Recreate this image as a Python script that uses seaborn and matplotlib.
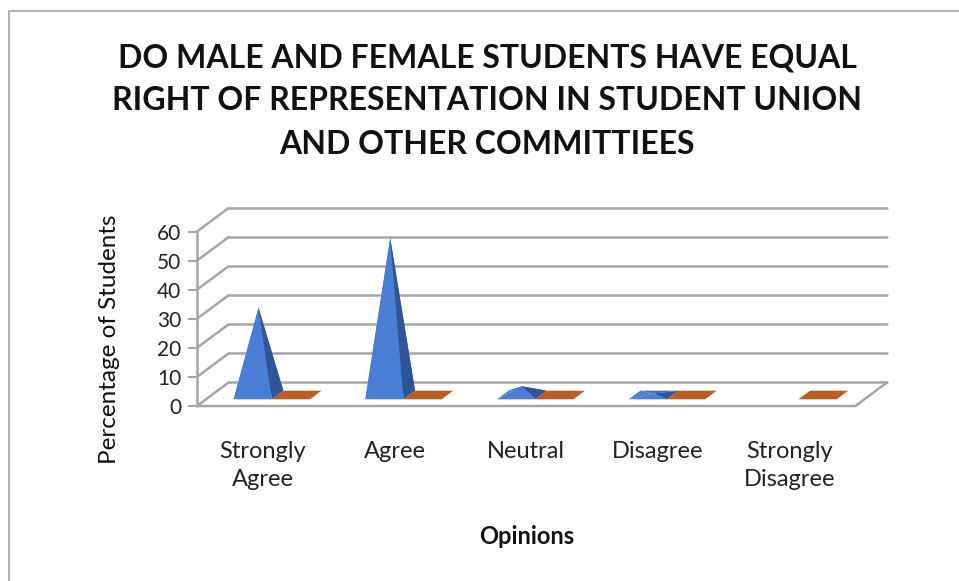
import matplotlib
matplotlib.use('Agg')
import matplotlib.pyplot as plt
from matplotlib.patches import Polygon
from matplotlib.lines import Line2D
import numpy as np
import pandas as pd
import seaborn as sns

# data
opinions = ['Strongly\nAgree', 'Agree', 'Neutral', 'Disagree', 'Strongly\nDisagree']
series_1 = [30, 54, 3, 0.5, np.nan]
series_2 = [0, 0, 0, 0, 0]
y_ticks = [0, 10, 20, 30, 40, 50, 60]

title = ('DO MALE AND FEMALE STUDENTS HAVE EQUAL\n'
         'RIGHT OF REPRESENTATION IN STUDENT UNION\n'
         'AND OTHER COMMITTIEES')

sns.set_theme(style='white')
plt.rcParams['font.family'] = ['Lato', 'DejaVu Sans']

df = pd.DataFrame({
    'opinion': opinions * 2,
    'pct': series_1 + series_2,
    'series': ['Series1'] * 5 + ['Series2'] * 5,
})

# fake 3D: depth offset of the back wall (x in categories, y in %)
DX, DY = 0.24, 8.1
D0, D1 = 0.285, 0.65   # depth range of the pyramids' base
grid_col = '#a6a6a6'

fig = plt.figure(figsize=(9.59, 5.81), dpi=100)
ax = fig.add_axes([197 / 959, (581 - 406) / 581, 690 / 959, 198 / 581])

sns.barplot(data=df, x='opinion', y='pct', hue='series', order=opinions,
            palette=['#4a7dd6', '#c0632a'], width=0.58, errorbar=None,
            legend=False, ax=ax)

# walls and floor
x0, x1 = -0.5, len(opinions) - 0.5
for v in y_ticks:
    ax.plot([x0 + DX, x1 + DX], [v + DY, v + DY], color=grid_col, lw=1.8,
            zorder=1, clip_on=False)
    ax.plot([x0, x0 + DX], [v, v + DY], color=grid_col, lw=1.8, zorder=1,
            clip_on=False)
ax.plot([x0, x0], [0, y_ticks[-1]], color=grid_col, lw=1.8, zorder=1, clip_on=False)
ax.plot([x0, x1, x1 + DX], [0, 0, DY], color=grid_col, lw=1.8, zorder=1,
        clip_on=False)

# turn each bar into a pyramid
shades = [('#4a7dd6', '#2f5597', '#3d6bc0'), ('#c0632a', '#8f4a1f', '#b85e24')]
for cont, (light, dark, mid) in zip(ax.containers, shades):
    for p in cont.patches:
        h = p.get_height()
        x, w = p.get_x(), p.get_width()
        p.set_visible(False)
        if not np.isfinite(h):
            continue
        fl = (x + D0 * DX, D0 * DY)
        fr = (x + w + D0 * DX, D0 * DY)
        br = (x + w + D1 * DX, D1 * DY)
        bl = (x + D1 * DX, D1 * DY)
        dm = (D0 + D1) / 2
        apex = (x + w / 2 + dm * DX, h + dm * DY)
        if h <= 0:
            ax.add_patch(Polygon([fl, fr, br, bl], closed=True, fc=mid,
                                 ec='none', zorder=3))
            continue
        for pts, c in [([bl, br, apex], mid), ([fl, bl, apex], light),
                       ([fl, fr, apex], light), ([fr, br, apex], dark)]:
            ax.add_patch(Polygon(pts, closed=True, fc=c, ec='none', zorder=3))

ax.set_xlim(x0, x1 + DX)
ax.set_ylim(0, y_ticks[-1] + DY)
ax.set_yticks(y_ticks)
ax.set_yticklabels([str(t) for t in y_ticks])
ax.tick_params(axis='y', length=6.5, width=1.5, color=grid_col, labelsize=15,
               pad=5, labelcolor='#222222', left=True)
ax.tick_params(axis='x', length=0, pad=25, labelsize=17, labelcolor='#222222')
for lab in ax.get_xticklabels():
    lab.set_linespacing(1.45)
ax.set_xlabel('')
ax.set_ylabel('')
for s in ax.spines.values():
    s.set_visible(False)

fig.text(487 / 959, 1 - 101 / 581, title, ha='center', va='center',
         fontsize=23, fontweight='bold', linespacing=1.6, color='#111111')
fig.text(110 / 959, 1 - 339 / 581, 'Percentage of Students', rotation=90,
         ha='center', va='center', fontsize=17.5, color='#111111')
fig.text(527 / 959, 1 - 537 / 581, 'Opinions', ha='center', va='center',
         fontsize=17, fontweight='bold', color='#111111')

# chart frame
fig.add_artist(Line2D([8.5 / 959, 8.5 / 959], [0, 1 - 10.5 / 581],
                      transform=fig.transFigure, color='#b0b0b0', lw=1.5))
fig.add_artist(Line2D([8.5 / 959, 1], [1 - 10.5 / 581, 1 - 10.5 / 581],
                      transform=fig.transFigure, color='#b0b0b0', lw=1.5))

fig.savefig('out.png', dpi=100)
